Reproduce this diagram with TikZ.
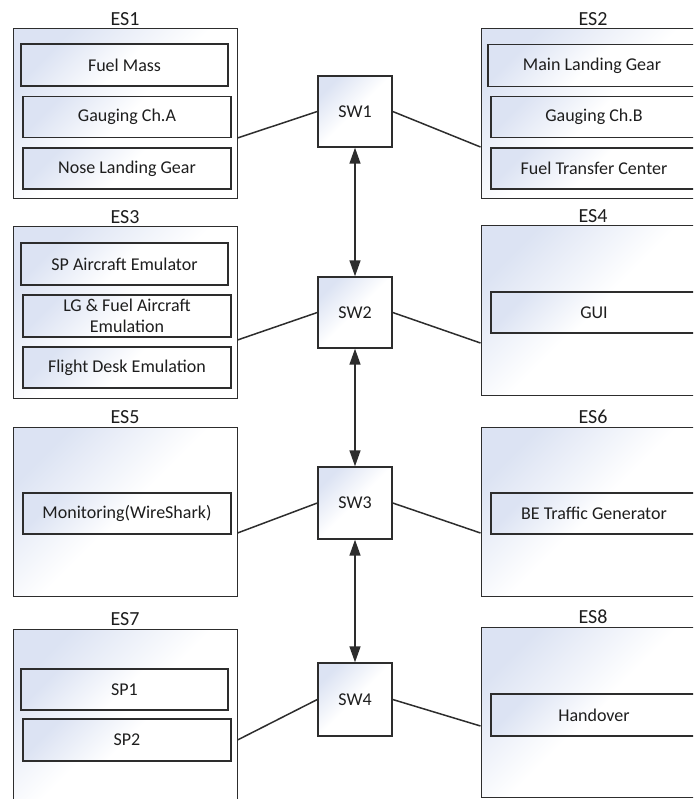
\documentclass[tikz,border=0pt]{standalone}
\usepackage{fontspec}
\setmainfont{Carlito}
\usepackage{tikz}
\usetikzlibrary{arrows.meta}
\definecolor{esTint}{RGB}{220,227,243}
\definecolor{edgeGray}{RGB}{45,45,45}
\definecolor{textGray}{RGB}{30,30,30}

\begin{document}
\begin{tikzpicture}[x=1pt, y=-1pt,
    station/.style={draw=edgeGray, line width=1pt, top color=esTint, bottom color=white, middle color=white,
        shading angle=45, minimum width=224pt, minimum height=170pt, inner sep=0pt},
    stationname/.style={inner sep=0pt, label distance=2.5pt, text=textGray, font=\fontsize{20}{22}\selectfont},
    unit/.style={draw=edgeGray, line width=1.4pt, top color=esTint, bottom color=white, middle color=white,
        shading angle=45, minimum width=208pt, minimum height=41pt, inner sep=1pt, align=center,
        text=textGray, font=\fontsize{18}{21}\selectfont},
    switch/.style={unit, minimum width=74pt, minimum height=72pt},
    link/.style={draw=edgeGray, line width=1.5pt},
    trunk/.style={link, {Triangle[length=16pt,width=11pt]}-{Triangle[length=16pt,width=11pt]}}]
    \useasboundingbox (0,0) rectangle (693,799);
    \clip (0,0) rectangle (693,799);
    % end stations
    \node[station, label={[stationname]above:ES1}] (es1) at (125,114) {};
    \node[station, label={[stationname]above:ES2}] (es2) at (593,114) {};
    \node[station, minimum height=171pt, label={[stationname]above:ES3}] (es3) at (125,312.5) {};
    \node[station, minimum height=169pt, label={[stationname]above:ES4}] (es4) at (593,310.5) {};
    \node[station, minimum height=169pt, label={[stationname]above:ES5}] (es5) at (125,511.5) {};
    \node[station, minimum height=169pt, label={[stationname]above:ES6}] (es6) at (593,511.5) {};
    \node[station, minimum height=174pt, label={[stationname]above:ES7}] (es7) at (125,716) {};
    \node[station, label={[stationname]above:ES8}] (es8) at (593,712) {};
    % applications
    \node[unit, minimum width=207pt, minimum height=42pt] (fuelmass) at (124.5,65) {Fuel Mass};
    \node[unit] (gaugingA) at (127,117) {Gauging Ch.A};
    \node[unit] (noselg) at (127,168.5) {Nose Landing Gear};
    \node[unit, minimum height=42pt] (mainlg) at (592,65.5) {Main Landing Gear};
    \node[unit, minimum width=206pt] (gaugingB) at (594,117) {Gauging Ch.B};
    \node[unit, minimum width=206pt] (fueltransfer) at (594,168.5) {Fuel Transfer Center};
    \node[unit, minimum width=207pt, minimum height=42pt] (spemu) at (124.5,264) {SP Aircraft Emulator};
    \node[unit, minimum height=42pt] (lgemu) at (127,316) {LG \& Fuel Aircraft\\Emulation};
    \node[unit] (flightdesk) at (127,367.5) {Flight Desk Emulation};
    \node[unit, minimum width=206pt] (gui) at (594,312.5) {GUI};
    \node[unit] (monitor) at (127,513.5) {Monitoring(WireShark)};
    \node[unit, minimum width=206pt] (betraffic) at (594,513.5) {BE Traffic Generator};
    \node[unit, minimum width=207pt] (sp1) at (124.5,689.5) {SP1};
    \node[unit, minimum height=42pt] (sp2) at (127,740) {SP2};
    \node[unit, minimum width=206pt, minimum height=42pt] (handover) at (594,715) {Handover};
    % switches
    \node[switch, minimum height=71pt] (sw1) at (355,111.5) {SW1};
    \node[switch, minimum height=71pt] (sw2) at (355,312.5) {SW2};
    \node[switch] (sw3) at (355,503) {SW3};
    \node[switch, minimum height=73pt] (sw4) at (355,699.5) {SW4};
    % links
    \draw[link] ([yshift=-24pt]es1.east) -- (sw1.west);
    \draw[link] (sw1.east) -- ([yshift=-33pt]es2.west);
    \draw[link] ([yshift=-27.5pt]es3.east) -- (sw2.west);
    \draw[link] (sw2.east) -- ([yshift=-32.5pt]es4.west);
    \draw[link] ([yshift=-21.5pt]es5.east) -- (sw3.west);
    \draw[link] (sw3.east) -- ([yshift=-21.5pt]es6.west);
    \draw[link] ([yshift=-24pt]es7.east) -- (sw4.west);
    \draw[link] (sw4.east) -- ([yshift=-14pt]es8.west);
    \draw[trunk] (sw1.south) -- (sw2.north);
    \draw[trunk] (sw2.south) -- (sw3.north);
    \draw[trunk] (sw3.south) -- (sw4.north);
\end{tikzpicture}
\end{document}
